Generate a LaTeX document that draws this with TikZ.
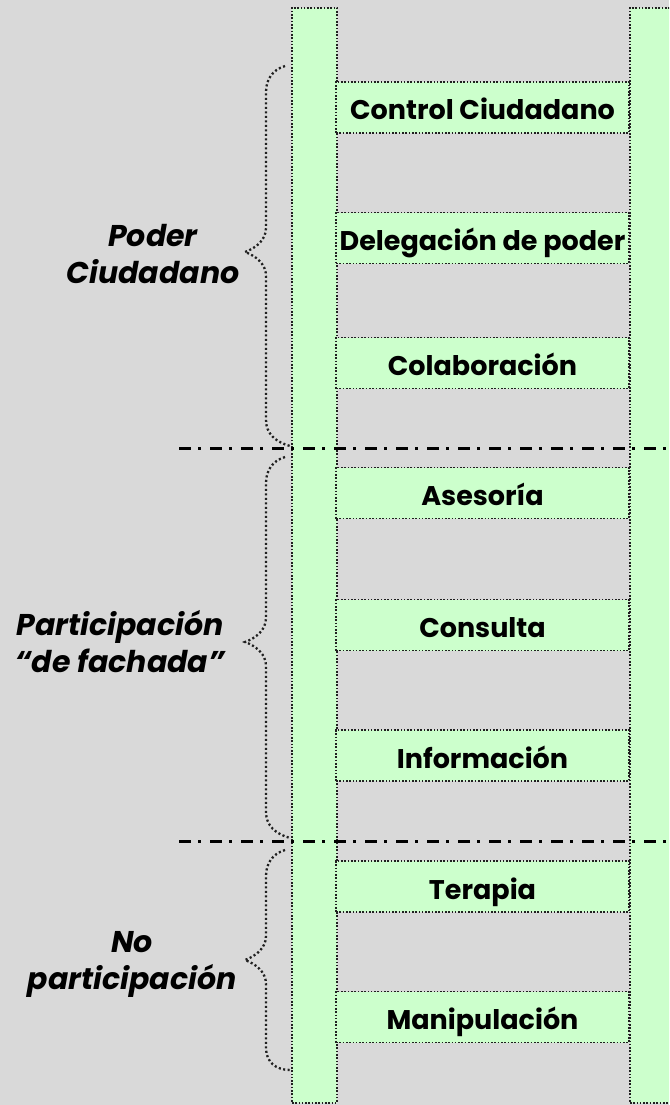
\documentclass[tikz,border=0pt]{standalone}
\usepackage{fontspec}
\setmainfont{Poppins}
\definecolor{bgcol}{HTML}{D9D9D9}
\definecolor{railgreen}{HTML}{CCFFCC}
\definecolor{dotcol}{HTML}{202020}
\begin{document}
\begin{tikzpicture}[x=1pt,y=-1pt,
  dotline/.style={draw=dotcol, line width=1.8pt, dash pattern=on 1.6pt off 1.7pt},
  railbox/.style={dotline, fill=railgreen, minimum width=45pt, minimum height=1095pt, inner sep=0pt, anchor=north west},
  rungbox/.style={dotline, fill=railgreen, minimum width=293pt, minimum height=51pt, inner sep=0pt,
    font=\bfseries\fontsize{27}{32}\selectfont, text=black, text height=25pt, text depth=0pt},
  sidelabel/.style={font=\bfseries\itshape\fontsize{30}{37}\selectfont, align=center, text=black, inner sep=0pt},
  bracepath/.style={draw=dotcol, line width=2.3pt, dash pattern=on 2.1pt off 2.4pt},
  divider/.style={draw=black, line width=3pt, dash pattern=on 12pt off 7pt on 3pt off 9pt}]
\useasboundingbox[fill=bgcol] (0,0) rectangle (669,1105);
\clip (0,0) rectangle (669,1105);
% rails
\node[railbox] (leftrail) at (291,7) {};
\node[railbox] (rightrail) at (629,7) {};
% rungs
\node[rungbox] (r1) at (482.5,107.5) {Control Ciudadano};
\node[rungbox] (r2) at (482.5,238) {Delegación de poder};
\node[rungbox] (r3) at (482.5,363) {Colaboración};
\node[rungbox] (r4) at (482.5,493) {Asesoría};
\node[rungbox] (r5) at (482.5,625) {Consulta};
\node[rungbox] (r6) at (482.5,755.5) {Información};
\node[rungbox] (r7) at (482.5,886.5) {Terapia};
\node[rungbox] (r8) at (482.5,1017) {Manipulación};
% braces
\draw[bracepath] (285,66) .. controls (272,70) and (266,80) .. (266,92) -- (266,228)
  .. controls (266,240) and (256,248) .. (245,252)
  .. controls (256,256) and (266,264) .. (266,276) -- (266,420)
  .. controls (266,434) and (276,442) .. (290,446);
\draw[bracepath] (285,457) .. controls (272,461) and (266,471) .. (266,483) -- (266,618)
  .. controls (266,630) and (256,638) .. (245,642)
  .. controls (256,646) and (266,654) .. (266,666) -- (266,812)
  .. controls (266,826) and (276,834) .. (290,838);
\draw[bracepath] (285,850) .. controls (272,854) and (266,864) .. (266,876) -- (266,936)
  .. controls (266,948) and (256,956) .. (245,960)
  .. controls (256,964) and (266,972) .. (266,984) -- (266,1048)
  .. controls (266,1062) and (276,1070) .. (290,1070);
% side labels
\node[sidelabel] (lab1) at (153,254) {Poder\\Ciudadano};
\node[sidelabel] (lab2) at (120,642) {Participación\\“de fachada”};
\node[sidelabel] (lab3) at (132,964) {No\\participación};
% dividers
\coordinate (d1a) at (179,448);
\coordinate (d1b) at (669,448);
\coordinate (d2a) at (179,841);
\coordinate (d2b) at (669,841);
\draw[divider] (d1a) -- (d1b);
\draw[divider] (d2a) -- (d2b);
\end{tikzpicture}
\end{document}
